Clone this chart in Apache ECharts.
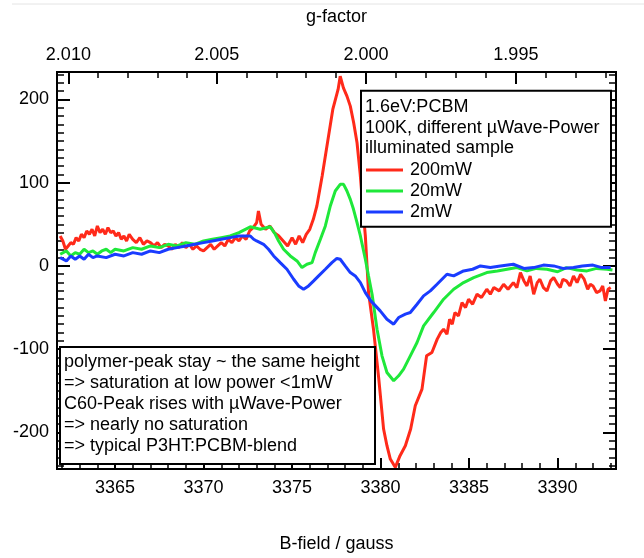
<!DOCTYPE html>
<html><head><meta charset="utf-8">
<script src="https://cdn.jsdelivr.net/npm/echarts@6/dist/echarts.min.js"></script>
<style>html,body{margin:0;padding:0;background:#fff}#c{width:644px;height:558px}</style>
</head><body><div id="c"></div>
<script>
// ---- data (B-field in gauss, EPR signal in a.u.) ----
const redB=[3361.9,3362.05,3362.2,3362.35,3362.5,3362.65,3362.8,3362.95,3363.1,3363.25,3363.4,3363.55,3363.7,3363.85,3364.0,3364.15,3364.3,3364.45,3364.6,3364.75,3364.9,3365.05,3365.2,3365.35,3365.5,3365.65,3365.8,3366.0,3366.2,3366.4,3366.6,3366.8,3367.0,3367.2,3367.4,3367.6,3367.8,3368.0,3368.2,3368.4,3368.6,3368.8,3369.0,3369.2,3369.4,3369.6,3369.8,3370.0,3370.2,3370.4,3370.6,3370.8,3371.0,3371.2,3371.4,3371.6,3371.8,3372.0,3372.2,3372.4,3372.6,3372.8,3373.0,3373.1,3373.25,3373.5,3373.75,3374.0,3374.25,3374.5,3374.75,3375.0,3375.2,3375.4,3375.6,3375.8,3376.0,3376.2,3376.4,3376.7,3377.0,3377.3,3377.6,3377.72,3377.9,3378.1,3378.29,3378.48,3378.67,3378.85,3379.0,3379.14,3379.32,3379.6,3379.9,3380.17,3380.36,3380.55,3380.83,3381.1,3381.4,3381.7,3381.96,3382.34,3382.6,3382.9,3383.2,3383.4,3383.56,3383.75,3383.9,3384.05,3384.2,3384.4,3384.6,3384.8,3384.97,3385.2,3385.45,3385.7,3386.0,3386.2,3386.4,3386.7,3386.95,3387.2,3387.5,3387.7,3387.9,3388.1,3388.27,3388.45,3388.65,3388.85,3389.0,3389.2,3389.4,3389.6,3389.78,3390.0,3390.15,3390.3,3390.5,3390.7,3390.9,3391.1,3391.3,3391.5,3391.7,3391.85,3392.0,3392.2,3392.4,3392.55,3392.7,3392.85,3393.0];
const redV=[36,30,20,24,28,26,34,30,38,34,42,38,44,36,48,40,44,38,46,40,42,36,40,32,36,30,38,32,28,34,26,30,28,24,28,22,26,24,20,26,22,28,22,26,20,24,20,18,22,26,20,24,28,24,32,28,34,30,36,32,42,46,52,66,50,44,48,40,36,30,24,34,26,36,28,38,44,56,72,108,148,188,212,228,214,204,192,172,148,110,70,36,-32,-76,-136,-196,-216,-232,-242,-228,-216,-196,-168,-148,-108,-104,-88,-80,-76,-82,-64,-70,-56,-60,-44,-50,-40,-46,-34,-38,-28,-34,-26,-30,-22,-28,-20,-26,-8,-18,-24,-12,-34,-20,-16,-26,-30,-18,-14,-22,-26,-16,-18,-24,-12,-20,-10,-16,-28,-22,-24,-32,-30,-24,-42,-28,-26];

const greenB=[3361.9,3362.25,3362.5,3362.75,3363.0,3363.25,3363.5,3363.75,3364.0,3364.25,3364.5,3364.75,3365.0,3365.5,3366.0,3366.5,3367.0,3367.5,3368.0,3368.5,3369.0,3369.5,3370.0,3370.5,3371.0,3371.5,3372.0,3372.64,3373.2,3373.77,3374.05,3374.24,3374.52,3374.9,3375.28,3375.56,3375.84,3376.13,3376.31,3376.6,3376.88,3377.16,3377.44,3377.72,3377.91,3378.1,3378.29,3378.47,3378.67,3378.86,3379.14,3379.32,3379.52,3379.8,3380.08,3380.36,3380.74,3381.02,3381.3,3381.68,3382.06,3382.43,3383.0,3383.56,3384.13,3384.69,3385.26,3386.0,3386.6,3387.15,3387.7,3388.27,3388.8,3389.4,3390.0,3390.5,3391.1,3391.66,3392.2,3392.8,3393.1];
const greenV=[14,18,12,16,14,20,16,18,14,18,20,16,20,18,22,20,24,22,26,24,28,26,30,32,34,36,40,47,44,47,38,30,20,12,6,-2,2,4,16,32,48,72,90,98,98,90,80,68,52,36,8,-12,-34,-76,-108,-128,-138,-132,-124,-108,-92,-72,-56,-40,-28,-20,-14,-8,-6,-4,-2,-6,-3,-4,-7,-2,-5,-6,-3,-4,-5];

const blueB=[3361.9,3362.25,3362.5,3362.75,3363.0,3363.25,3363.5,3363.75,3364.0,3364.5,3365.0,3365.5,3366.0,3366.5,3367.0,3367.5,3368.0,3368.5,3369.0,3369.5,3370.0,3370.5,3371.0,3371.5,3372.0,3372.64,3372.83,3373.0,3373.39,3373.67,3373.96,3374.33,3374.71,3375.09,3375.37,3375.65,3375.93,3376.22,3376.5,3376.88,3377.25,3377.53,3377.72,3378.0,3378.29,3378.57,3378.86,3379.14,3379.45,3379.98,3380.36,3380.74,3381.02,3381.4,3381.68,3382.06,3382.43,3382.81,3383.19,3383.75,3384.13,3384.69,3385.2,3385.64,3386.2,3386.77,3387.5,3388.1,3388.65,3389.2,3389.78,3390.3,3390.9,3391.4,3392.0,3392.5,3393.0];
const blueV=[10,6,12,8,12,8,14,10,12,10,14,12,16,14,18,16,20,22,24,26,28,30,32,34,36,36,32,30,26,20,12,4,-4,-16,-24,-28,-24,-18,-12,-4,4,9,8,0,-8,-12,-20,-32,-42,-54,-64,-70,-62,-58,-56,-46,-36,-30,-22,-10,-12,-6,-4,0,-2,0,2,-3,-2,1,0,-3,-2,0,1,-2,-2];

const seriesNames=['200mW','20mW','2mW'];
const bMajor=[3365,3370,3375,3380,3385,3390];
const yMajor=[-200,-100,0,100,200];
const gMajor=[2.010,2.005,2.000,1.995];

// ---- axis settings ----
const B_MIN=3361.72, B_MAX=3393.3, Y_MIN=-244, Y_MAX=233;
const G_CONST=6758.35; // g * B  (h*nu/muB in gauss)
const bMinor=[]; for(let b=3362;b<=3393;b++) bMinor.push(b);
const yMinor=[]; for(let v=-240;v<=230;v+=10) yMinor.push(v);
const gMinor=[]; for(let k=2010;k>=1992;k--) gMinor.push(k/1000);
const gMajorB=gMajor.map(g=>G_CONST/g);
const gMinorB=gMinor.map(g=>G_CONST/g);

const FONT="'Liberation Sans', Arial, sans-serif";
const txt={fontFamily:FONT,fontSize:18,color:'#000'};
const LINE={color:'#000',width:2};

function xAx(pos,ticks,len,w,labels,extra){
  return Object.assign({type:'value',position:pos,min:B_MIN,max:B_MAX,
    axisLine:{show:true,onZero:false,lineStyle:LINE},
    axisTick:{show:true,inside:true,length:len,customValues:ticks,lineStyle:{color:'#000',width:w}},
    axisLabel:labels?Object.assign({show:true,customValues:ticks},txt,labels):{show:false},
    splitLine:{show:false},minorTick:{show:false}},extra||{});
}
function yAx(pos,ticks,len,w,labels){
  return {type:'value',position:pos,min:Y_MIN,max:Y_MAX,
    axisLine:{show:true,onZero:false,lineStyle:LINE},
    axisTick:{show:true,inside:true,length:len,customValues:ticks,lineStyle:{color:'#000',width:w}},
    axisLabel:labels?Object.assign({show:true,customValues:ticks},txt,labels):{show:false},
    splitLine:{show:false}};
}
const zip=(xs,ys)=>xs.map((x,i)=>[x,ys[i]]);
const colors=['#ff2a1a','#1fe83a','#1a3cff'];
const data=[zip(redB,redV),zip(greenB,greenV),zip(blueB,blueV)];

const chart=echarts.init(document.getElementById('c'),null,{renderer:'canvas'});
chart.setOption({
  animation:false,
  backgroundColor:'#fff',
  grid:{left:57,right:28,top:72,bottom:88,containLabel:false},
  xAxis:[
    xAx('bottom',bMajor,11,2,{margin:10,formatter:v=>String(Math.round(v))},{name:'B-field / gauss',nameLocation:'middle',nameGap:66,nameTextStyle:txt}),
    xAx('bottom',bMinor,6,1.5,null),
    xAx('top',gMajorB,12,2,{margin:8,formatter:v=>(G_CONST/v).toFixed(3)},{name:'g-factor',nameLocation:'middle',nameGap:46,nameTextStyle:txt}),
    xAx('top',gMinorB,6,1.5,null)
  ],
  yAxis:[
    yAx('left',yMajor,13,2,{margin:8,formatter:v=>String(v)}),
    yAx('left',yMinor,7,1.5,null),
    yAx('right',yMajor,13,2,null),
    yAx('right',yMinor,7,1.5,null)
  ],
  legend:{show:true,orient:'vertical',left:366,top:159.5,padding:0,itemGap:0,
    itemWidth:37,itemHeight:3,icon:'rect',z:20,
    textStyle:Object.assign({lineHeight:21,padding:[0,0,0,2]},txt),
    data:seriesNames},
  series:seriesNames.map((n,i)=>({name:n,type:'line',xAxisIndex:0,yAxisIndex:0,
    data:data[i],showSymbol:false,symbol:'none',z:2+i,
    lineStyle:{color:colors[i],width:3},itemStyle:{color:colors[i]}})),
  graphic:{elements:[
    {type:'line',shape:{x1:12,y1:4,x2:644,y2:4},style:{stroke:'#e4e4e4',lineWidth:1},z:1},
    {type:'rect',shape:{x:361,y:90.7,width:250,height:136},style:{fill:'#fff',stroke:'#000',lineWidth:2},z:10},
    {type:'text',x:365,y:97,style:{text:'1.6eV:PCBM\n100K, different µWave-Power\nilluminated sample',
      fontFamily:FONT,fontSize:18,lineHeight:20.5,fill:'#000',verticalAlign:'top'},z:11},
    {type:'rect',shape:{x:60,y:347,width:315,height:117},style:{fill:'#fff',stroke:'#000',lineWidth:2},z:10},
    {type:'text',x:64,y:352,style:{text:'polymer-peak stay ~ the same height\n=> saturation at low power <1mW\nC60-Peak rises with µWave-Power\n=> nearly no saturation\n=> typical P3HT:PCBM-blend',
      fontFamily:FONT,fontSize:18,lineHeight:21,fill:'#000',verticalAlign:'top'},z:11}
  ]}
});
</script></body></html>
